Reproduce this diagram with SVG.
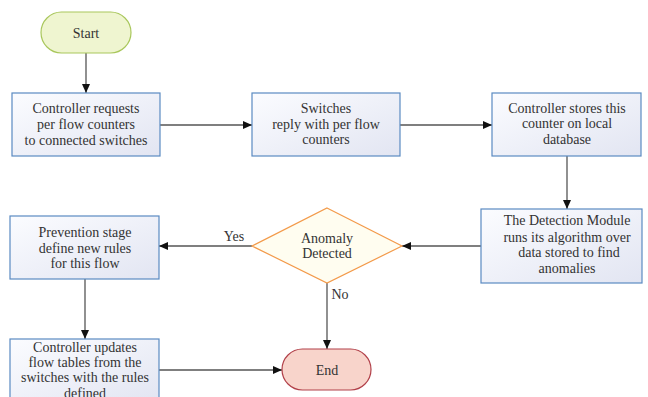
<svg xmlns="http://www.w3.org/2000/svg" width="648" height="397" viewBox="0 0 648 397">
<style>
text{font-family:"Liberation Serif","Times New Roman",serif;font-size:14px;fill:#333;text-anchor:middle}
.box{fill:url(#bg);stroke:#5a8ac2;stroke-width:1.2}
.con{stroke:#555;stroke-width:1.3;fill:none;marker-end:url(#ah)}
</style>
<defs>
<linearGradient id="bg" x1="0" y1="0" x2="1" y2="1">
<stop offset="0" stop-color="#fbfcff"/>
<stop offset="1" stop-color="#e2e5f2"/>
</linearGradient>
<marker id="ah" markerWidth="10" markerHeight="10" refX="9" refY="4" orient="auto" markerUnits="userSpaceOnUse">
<path d="M0,0 L9,4 L0,8 Z" fill="#111"/>
</marker>
</defs>
<rect width="648" height="397" fill="#fff"/>
<g id="connectors">
<line class="con" x1="86" y1="53" x2="86" y2="93"/>
<line class="con" x1="160" y1="125" x2="252" y2="125"/>
<line class="con" x1="400" y1="125" x2="492" y2="125"/>
<line class="con" x1="567" y1="156" x2="567" y2="209"/>
<line class="con" x1="481" y1="246" x2="402" y2="246"/>
<line class="con" x1="252" y1="246" x2="159" y2="246"/>
<line class="con" x1="85" y1="279" x2="85" y2="339"/>
<line class="con" x1="159" y1="370" x2="282" y2="370"/>
<line class="con" x1="327" y1="283" x2="327" y2="349"/>
<text x="234" y="241">Yes</text>
<text x="340" y="299">No</text>
</g>
<g id="start">
<rect x="41" y="12" width="90" height="41" rx="20.5" fill="#eff5d0" stroke="#a9c75c" stroke-width="1.2"/>
<text x="86" y="38">Start</text>
</g>
<g id="req">
<rect class="box" x="12" y="93" width="148" height="63"/>
<text x="86" y="113">Controller requests</text>
<text x="86" y="129">per flow counters</text>
<text x="86" y="145">to connected switches</text>
</g>
<g id="reply">
<rect class="box" x="252" y="93" width="148" height="63"/>
<text x="326" y="113">Switches</text>
<text x="326" y="129">reply with per flow</text>
<text x="326" y="144">counters</text>
</g>
<g id="store">
<rect class="box" x="492" y="93" width="149" height="63"/>
<text x="567" y="113">Controller stores this</text>
<text x="567" y="128">counter on local</text>
<text x="567" y="144">database</text>
</g>
<g id="detect">
<rect class="box" x="481" y="209" width="161" height="74"/>
<text x="567" y="225">The Detection Module</text>
<text x="567" y="242">runs its algorithm over</text>
<text x="569" y="257">data stored to find</text>
<text x="567" y="273">anomalies</text>
</g>
<g id="decision">
<polygon points="327,208 402,246 327,283 252,246" fill="#fffdf0" stroke="#f39a4a" stroke-width="1.2"/>
<text x="327" y="243">Anomaly</text>
<text x="327" y="258">Detected</text>
</g>
<g id="prevent">
<rect class="box" x="10" y="216" width="149" height="63"/>
<text x="85" y="237">Prevention stage</text>
<text x="85" y="253">define new rules</text>
<text x="85" y="268">for this flow</text>
</g>
<g id="update">
<rect class="box" x="10" y="339" width="149" height="64"/>
<text x="85" y="352">Controller updates</text>
<text x="85" y="367">flow tables from the</text>
<text x="85" y="382">switches with the rules</text>
<text x="85" y="398">defined</text>
</g>
<g id="end">
<rect x="282" y="349" width="89" height="41" rx="20.5" fill="#f8d4cb" stroke="#b2414a" stroke-width="1.2"/>
<text x="327" y="375">End</text>
</g>
</svg>
